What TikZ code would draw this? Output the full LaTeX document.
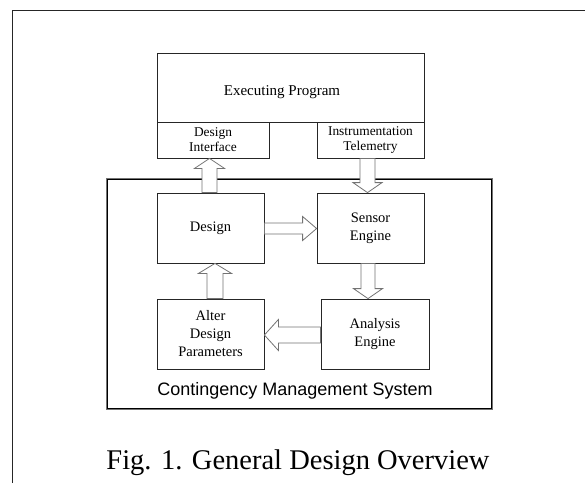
\documentclass[tikz,border=0pt]{standalone}
\usepackage{fontspec}
\setmainfont{Liberation Serif}
\newfontfamily\cmsfont{Liberation Sans}
\usetikzlibrary{calc}
\tikzset{
  box/.style={draw=black!85, line width=0.8pt, inner sep=0pt, align=center,
    font=\fontsize{14.5}{18}\selectfont},
  smallbox/.style={box, font=\fontsize{13.4}{16}\selectfont},
  arrowline/.style={draw=black!55, line width=0.8pt, fill=white},
}
% #1 shaft half width, #2 head half width, #3 head length, #4 from, #5 to
\newcommand{\blockarr}[5]{%
  \draw[arrowline] let \p1=(#4), \p2=(#5),
      \n1={atan2(\y2-\y1,\x2-\x1)}, \n2={veclen(\x2-\x1,\y2-\y1)} in
    {[shift={(\p1)}, rotate=\n1]
     (0pt,-#1pt) -- (\n2*1pt-#3pt,-#1pt) -- (\n2*1pt-#3pt,-#2pt) -- (\n2*1pt,0pt)
     -- (\n2*1pt-#3pt,#2pt) -- (\n2*1pt-#3pt,#1pt) -- (0pt,#1pt) -- cycle};
}
\begin{document}
\begin{tikzpicture}[x=1pt,y=-1pt]
\useasboundingbox (0,0) rectangle (585,483);
% outer frame (only top and left visible)
\draw[line width=1.6pt, black!85] (12.5,483) -- (12.5,10.5) -- (585,10.5);

% container
\draw[line width=2.6pt, black!55] (107,179) rectangle (492,409);
\draw[line width=0.9pt, black] (107.6,179.6) rectangle (491.4,408.4);

\node[box, minimum width=267pt, minimum height=69pt] (ep) at (290.5,87.5) {};
\node[font=\fontsize{15}{18}\selectfont] (eptext) at (282,92) {Executing Program};
\node[smallbox, minimum width=112pt, minimum height=36pt] (di) at (213,140) {Design\\[-1pt]Interface};
\node[smallbox, minimum width=107pt, minimum height=36pt] (it) at (370.5,140) {Instrumentation\\[-1pt]Telemetry};

\node[box, minimum width=107pt, minimum height=70pt] (design) at (210.5,228) {Design};
\node[box, minimum width=107pt, minimum height=70pt] (sensor) at (370.5,228) {Sensor\\Engine};
\node[box, minimum width=107pt, minimum height=70pt] (alter) at (210.5,334) {Alter\\Design\\Parameters};
\node[box, minimum width=108pt, minimum height=70pt] (analysis) at (375,334) {Analysis\\Engine};

\node[font=\cmsfont\fontsize{18}{20}\selectfont] (cms) at (295,391) {Contingency Management System};

\node[font=\fontsize{28.5}{32}\selectfont, anchor=base] (cap) at (298,469) {Fig. 1. General Design Overview};

% block arrows
\coordinate (a1s) at ($(design.north)+(-1,0)$);
\coordinate (a1e) at (a1s |- di.south);
\blockarr{7.5}{15}{10}{a1s}{a1e}

\coordinate (a2s) at ($(it.south)+(-3,0)$);
\coordinate (a2e) at (a2s |- sensor.north);
\blockarr{7.5}{14.5}{10}{a2s}{a2e}

\coordinate (a3s) at ($(design.east)+(0,0.5)$);
\coordinate (a3e) at (a3s -| sensor.west);
\blockarr{5.5}{12}{14}{a3s}{a3e}

\coordinate (a4s) at ($(sensor.south)+(-2.5,0)$);
\coordinate (a4e) at (a4s |- analysis.north);
\blockarr{7}{14.5}{10}{a4s}{a4e}

\coordinate (a5s) at ($(alter.north)+(4.5,0)$);
\coordinate (a5e) at (a5s |- design.south);
\blockarr{8}{16.5}{10}{a5s}{a5e}

\coordinate (a6s) at ($(analysis.west)+(0,1)$);
\coordinate (a6e) at (a6s -| alter.east);
\blockarr{8}{15.5}{14}{a6s}{a6e}
\end{tikzpicture}
\end{document}
